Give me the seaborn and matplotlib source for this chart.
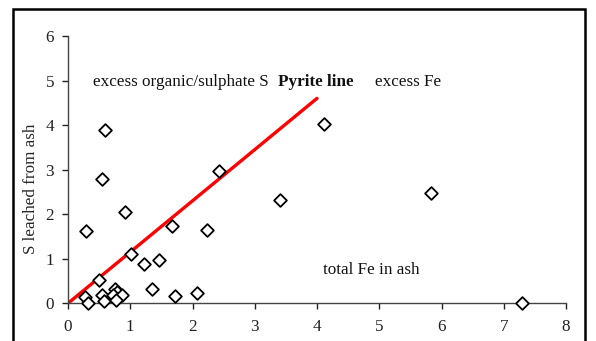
import matplotlib
matplotlib.use("Agg")
import matplotlib.pyplot as plt
import seaborn as sns
import pandas as pd
from matplotlib.patches import Rectangle

# Total Fe in ash vs S leached from ash
fe_total = [0.29, 0.55, 0.59, 0.92, 1.01, 1.22, 1.46, 1.67, 2.23, 2.43,
            3.41, 4.11, 5.83, 7.29, 0.50, 0.27, 0.32, 0.54, 0.58, 0.75,
            0.78, 0.72, 0.86, 0.77, 1.35, 1.72, 2.08]
s_leached = [1.63, 2.80, 3.89, 2.04, 1.10, 0.89, 0.97, 1.73, 1.64, 2.98,
             2.31, 4.03, 2.47, 0.00, 0.52, 0.15, 0.00, 0.19, 0.06, 0.31,
             0.26, 0.18, 0.19, 0.08, 0.32, 0.16, 0.22]

# Pyrite stoichiometry line (S/Fe mass ratio of FeS2)
pyrite_fe = [0.0, 4.0]
pyrite_s = [0.0, 4.6]

x_ticks = [0, 1, 2, 3, 4, 5, 6, 7, 8]
y_ticks = [0, 1, 2, 3, 4, 5, 6]

FS = 12.3

sns.set_theme(style="white")
plt.rcParams["font.family"] = ["Liberation Serif", "DejaVu Serif"]

fig = plt.figure(figsize=(5.96, 3.41), dpi=100)
ax = fig.add_axes([68 / 596, 1 - 303.3 / 341, (566 - 68) / 596, (303.3 - 36) / 341])

pts = pd.DataFrame({"fe": fe_total, "s": s_leached})
line = pd.DataFrame({"fe": pyrite_fe, "s": pyrite_s})

sns.lineplot(data=line, x="fe", y="s", ax=ax, color="#ff0000", linewidth=2.4,
             zorder=2)
sns.scatterplot(data=pts, x="fe", y="s", ax=ax, marker="D", s=42,
                facecolor="white", edgecolor="black", linewidth=1.3,
                zorder=3, clip_on=False)

ax.set_xlim(0, 8)
ax.set_ylim(0, 6)
ax.set_xticks(x_ticks)
ax.set_yticks(y_ticks)
ax.set_xlabel("")
ax.set_ylabel("S leached from ash", fontsize=FS)
ax.yaxis.set_label_coords(-0.058, 0.43)

for side in ("top", "right"):
    ax.spines[side].set_visible(False)
for side in ("left", "bottom"):
    ax.spines[side].set_color("#444444")
    ax.spines[side].set_linewidth(1.0)

ax.tick_params(axis="both", which="major", labelsize=FS, colors="#222222",
               length=4, width=1.0, direction="out", bottom=True, left=True,
               pad=6)
ax.tick_params(axis="x", pad=7)

ax.text(0.40, 4.97, "excess organic/sulphate S", fontsize=FS, va="center",
        ha="left", color="#111111")
ax.text(3.37, 4.97, "Pyrite line", fontsize=FS, va="center", ha="left",
        fontweight="bold", color="#111111")
ax.text(4.93, 4.97, "excess Fe", fontsize=FS, va="center", ha="left",
        color="#111111")
ax.text(4.09, 0.75, "total Fe in ash", fontsize=FS, va="center", ha="left",
        color="#111111")

# Chart frame
fig.patches.append(Rectangle((13 / 596, -0.1), (585 - 13) / 596, 1.1 - 9 / 341,
                             transform=fig.transFigure, fill=False,
                             edgecolor="black", linewidth=1.8))

fig.savefig("out.png", dpi=100, facecolor="white")
